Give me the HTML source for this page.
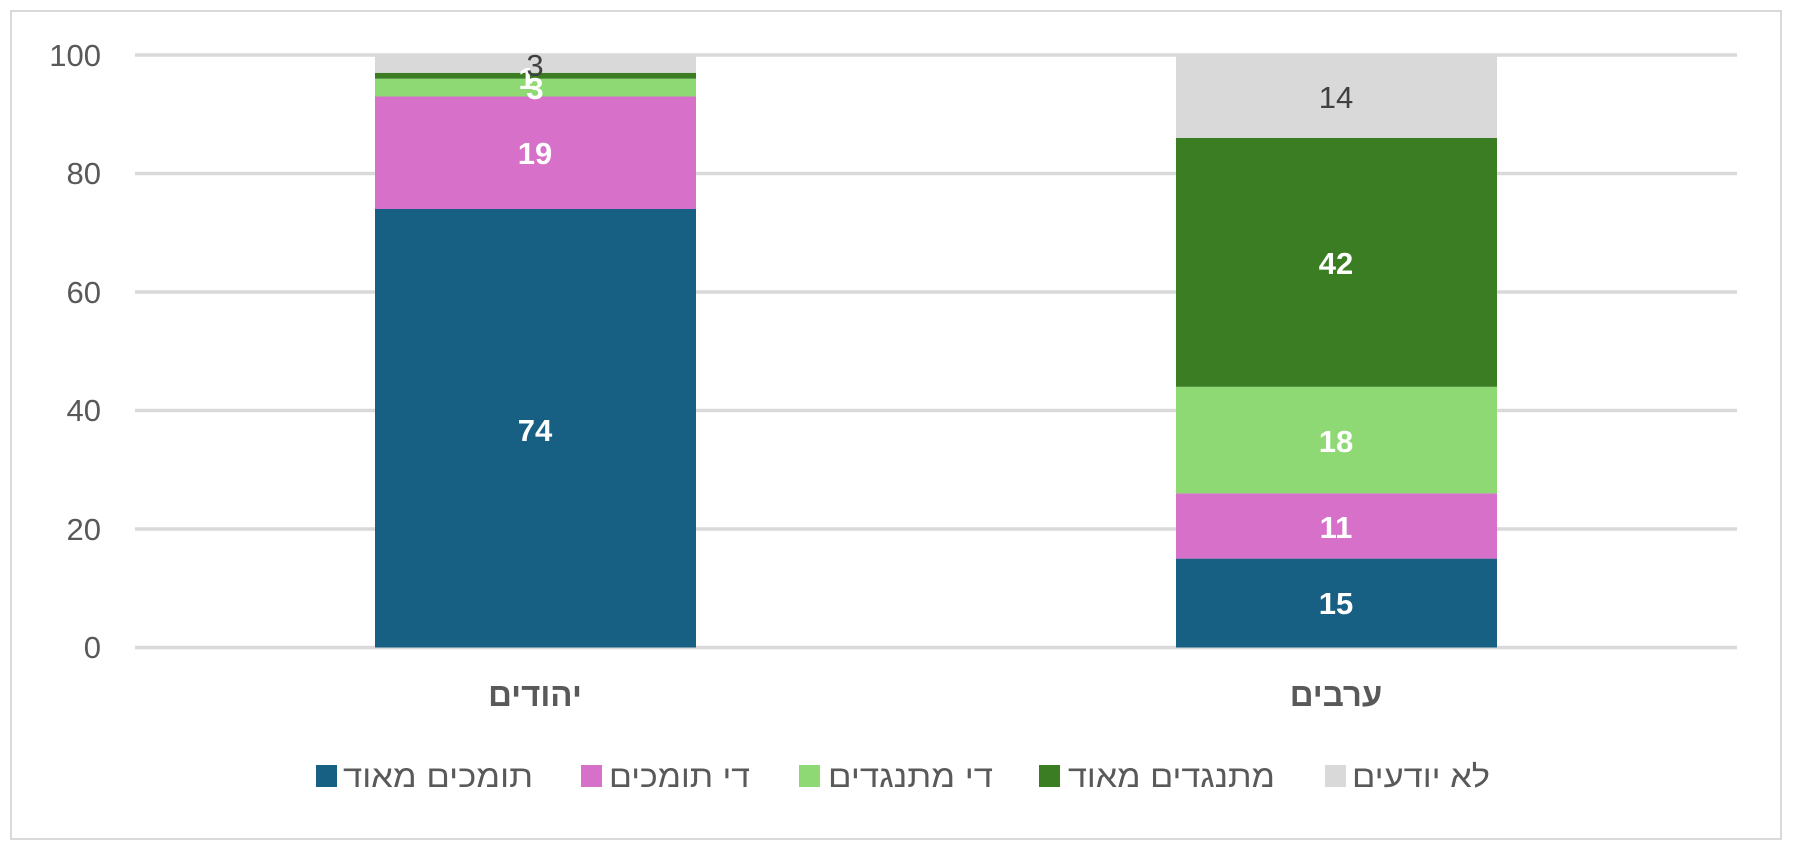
<!DOCTYPE html>
<html><head><meta charset="utf-8"><style>
html,body{margin:0;padding:0;background:#fff;}
svg{display:block;font-family:"Liberation Sans","Noto Sans CJK SC",sans-serif;}
</style></head><body>
<svg width="1794" height="848" viewBox="0 0 1794 848" xmlns="http://www.w3.org/2000/svg">
<rect x="11" y="11" width="1770" height="828" fill="#fff" stroke="#d9d9d9" stroke-width="2"/>
<g stroke="#d9d9d9" stroke-width="3.5">
<line x1="135" x2="1737" y1="55" y2="55"/>
<line x1="135" x2="1737" y1="173.5" y2="173.5"/>
<line x1="135" x2="1737" y1="292" y2="292"/>
<line x1="135" x2="1737" y1="410.5" y2="410.5"/>
<line x1="135" x2="1737" y1="529" y2="529"/>
<line x1="135" x2="1737" y1="647.5" y2="647.5"/>
</g>
<g fill="#595959" font-size="31" text-anchor="end">
<text x="101" y="66">100</text>
<text x="101" y="184">80</text>
<text x="101" y="303">60</text>
<text x="101" y="421">40</text>
<text x="101" y="540">20</text>
<text x="101" y="658">0</text>
</g>
<!-- Bar 1 -->
<rect x="375" y="209" width="321" height="438.5" fill="#176083"/>
<rect x="375" y="96.5" width="321" height="112.5" fill="#d670c9"/>
<rect x="375" y="78.7" width="321" height="17.8" fill="#8fd974"/>
<rect x="375" y="72.8" width="321" height="5.9" fill="#3b7d23"/>
<rect x="375" y="55" width="321" height="17.8" fill="#d9d9d9"/>
<!-- Bar 2 -->
<rect x="1176" y="558.6" width="321" height="88.9" fill="#176083"/>
<rect x="1176" y="493.4" width="321" height="65.2" fill="#d670c9"/>
<rect x="1176" y="386.8" width="321" height="106.6" fill="#8fd974"/>
<rect x="1176" y="138" width="321" height="248.8" fill="#3b7d23"/>
<rect x="1176" y="55" width="321" height="83" fill="#d9d9d9"/>
<g font-size="31" font-weight="bold" fill="#fff" text-anchor="middle">
<text x="535" y="441">74</text>
<text x="535" y="164">19</text>
<text x="535" y="99">3</text>
<text x="527" y="89">1</text>
<text x="1336" y="614">15</text>
<text x="1336" y="538">11</text>
<text x="1336" y="452">18</text>
<text x="1336" y="274">42</text>
</g>
<g font-size="31" fill="#404040" text-anchor="middle">
<text x="535" y="76">3</text>
<text x="1336" y="108">14</text>
</g>
<g font-size="33" font-weight="bold" fill="#595959" text-anchor="middle">
<text x="535" y="706">יהודים</text>
<text x="1336" y="706">ערבים</text>
</g>
<g font-size="31" fill="#595959">
<rect x="316" y="765" width="21" height="22" fill="#176083"/><text x="343" y="787" textLength="190" lengthAdjust="spacingAndGlyphs">תומכים מאוד</text>
<rect x="581" y="765" width="21" height="22" fill="#d670c9"/><text x="609" y="787" textLength="141" lengthAdjust="spacingAndGlyphs">די תומכים</text>
<rect x="799" y="765" width="21" height="22" fill="#8fd974"/><text x="828" y="787" textLength="165" lengthAdjust="spacingAndGlyphs">די מתנגדים</text>
<rect x="1039" y="765" width="21" height="22" fill="#3b7d23"/><text x="1068" y="787" textLength="207" lengthAdjust="spacingAndGlyphs">מתנגדים מאוד</text>
<rect x="1325" y="765" width="21" height="22" fill="#d9d9d9"/><text x="1352" y="787" textLength="138" lengthAdjust="spacingAndGlyphs">לא יודעים</text>
</g>
</svg>
</body></html>
